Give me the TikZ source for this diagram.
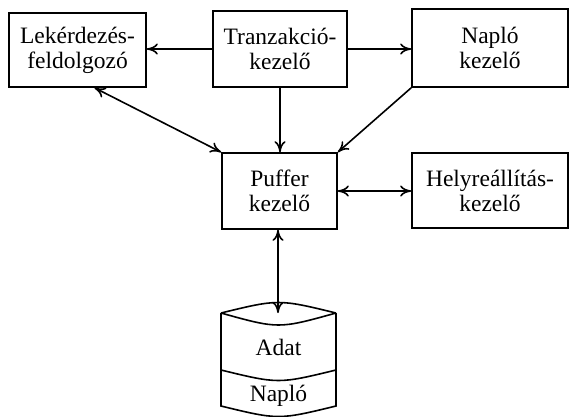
\documentclass[tikz,border=0pt]{standalone}
\usepackage{fontspec}
\setmainfont{Liberation Serif}
\usetikzlibrary{arrows.meta}
\begin{document}
\begin{tikzpicture}[x=1pt,y=-1pt,
  line width=1.6pt,
  tip/.tip={To[length=11pt,width=11pt]},
  box/.style={draw,align=center,inner sep=0pt,
    font=\fontsize{23.5}{25}\selectfont},
  lbl/.style={anchor=base,inner sep=0pt,font=\fontsize{23.5}{25}\selectfont},
  arr/.style={-tip},
  darr/.style={tip-tip}]
\useasboundingbox (0,0) rectangle (570,416);

% component boxes
\node[box,minimum width=137pt,minimum height=74pt] (lek) at (77.5,50)
  {Lekérdezés-\\feldolgozó};
\node[box,minimum width=134pt,minimum height=76pt] (tra) at (280,49)
  {Tranzakció-\\kezelő};
\node[box,minimum width=156pt,minimum height=78pt] (nap) at (490,48)
  {Napló\\kezelő};
\node[box,minimum width=115pt,minimum height=76pt] (puf) at (279.5,191)
  {Puffer\\kezelő};
\node[box,minimum width=156pt,minimum height=75pt] (hel) at (490,190.5)
  {Helyreállítás-\\kezelő};

% storage cylinder with two sections
\coordinate (cl) at (221,313);
\coordinate (cr) at (336,313);
\coordinate (cyl) at (278,313);
\draw (cl) .. controls (278.5,299) .. (cr)
      (cl) .. controls (278.5,329) .. (cr)
      (cl) -- (221,406) .. controls (278.5,420) .. (336,406) -- (cr)
      (221,370) .. controls (278.5,384) .. (336,370);
\node[lbl] (adat) at (278.5,355) {Adat};
\node[lbl] (napl) at (278.5,401) {Napló};

% connectors
\draw[arr] (tra.west) -- (tra.west -| lek.east);
\draw[arr] (tra.east) -- (tra.east -| nap.west);
\draw[arr] (tra.south) -- (tra.south |- puf.north);
\draw[darr] ([xshift=17pt]lek.south) -- (puf.north west);
\draw[arr] (nap.south west) -- (puf.north east);
\draw[darr] (puf.east) -- (puf.east -| hel.west);
\draw[darr] (puf.south -| cyl) -- (cyl);
\end{tikzpicture}
\end{document}
